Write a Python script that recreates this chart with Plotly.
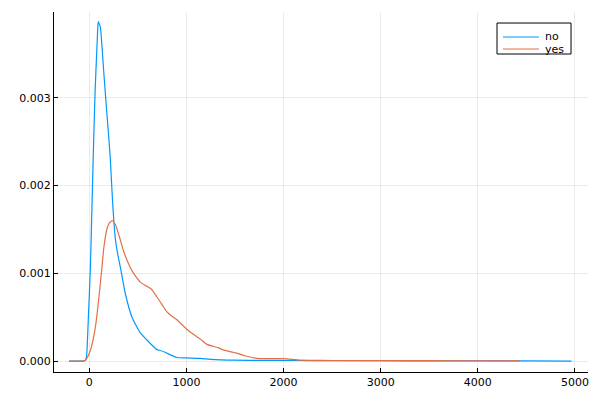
import plotly.graph_objects as go

# series "no"
no_x = [-210, -120, -60, -40, -30, -24, -10, 10, 30, 44, 60, 75, 88, 93, 100, 113, 150, 175, 202, 216, 240, 267, 290, 319, 370, 439, 525, 593, 628, 696, 730, 780, 833, 902, 1000, 1142, 1245, 1485, 1800, 2100, 2500, 3000, 3500, 4000, 4500, 4965]
no_y = [0.0, 0.0, 0.0, 0.00001, 0.00005, 0.000125, 0.0005, 0.00105, 0.0019, 0.0025, 0.0031, 0.0035, 0.00382, 0.00387, 0.00385, 0.00381, 0.00327, 0.0029, 0.00252, 0.0023, 0.0018, 0.0014, 0.00123, 0.00107, 0.00077, 0.0005, 0.00032, 0.00024, 0.0002, 0.00013, 0.00012, 0.0001, 0.00007, 0.00004, 0.000035, 0.00003, 0.00002, 0.00001, 0.000008, 0.000006, 0.000004, 0.000003, 0.000002, 0.000002, 0.000001, 0.0]

# series "yes"
yes_x = [-210, -120, -90, -40, 10, 40, 70, 96, 127, 150, 180, 210, 240, 270, 300, 319, 350, 388, 420, 456, 525, 580, 628, 660, 696, 750, 799, 850, 902, 1005, 1142, 1210, 1330, 1382, 1519, 1600, 1725, 1850, 2000, 2170, 2300, 2500, 3000, 3500, 4000, 4430]
yes_y = [0.0, 0.0, 0.0, 0.00001, 0.00012, 0.00025, 0.00045, 0.0007, 0.00104, 0.0013, 0.0015, 0.00158, 0.0016, 0.00155, 0.00145, 0.00138, 0.00126, 0.00115, 0.00107, 0.001, 0.0009, 0.00086, 0.00083, 0.00079, 0.00073, 0.00064, 0.00056, 0.00051, 0.00047, 0.00036, 0.00025, 0.00019, 0.00015, 0.000125, 0.00009, 0.00006, 0.00003, 0.000028, 0.000028, 0.00001, 0.000008, 0.000006, 0.000005, 0.000004, 0.000003, 0.000002]

series_names = ["no", "yes"]
series_colors = ["#009AFA", "#E26F46"]

x_ticks = [0, 1000, 2000, 3000, 4000, 5000]
y_ticks = [0.0, 0.001, 0.002, 0.003]
y_tick_labels = ["0.000", "0.001", "0.002", "0.003"]

fig = go.Figure()
for xs, ys, nm, col in zip([no_x, yes_x], [no_y, yes_y], series_names, series_colors):
    fig.add_trace(go.Scatter(x=xs, y=ys, mode="lines", name=nm, showlegend=False,
                             line=dict(color=col, width=1.2, shape="spline", smoothing=0.5)))

axis_common = dict(showline=True, linecolor="black", linewidth=1, mirror=False,
                   showgrid=True, gridcolor="rgba(0,0,0,0.08)", gridwidth=1,
                   ticks="inside", ticklen=4, tickcolor="black", zeroline=False,
                   automargin=False,
                   tickfont=dict(family="DejaVu Sans", size=11, color="black"))

fig.update_xaxes(range=[-364, 5134], tickvals=x_ticks,
                 ticktext=[str(v) for v in x_ticks], **axis_common)
fig.update_yaxes(range=[-0.000125, 0.00398], tickvals=y_ticks,
                 ticktext=y_tick_labels, **axis_common)

# manual legend (paper coordinates relative to plot area)
fig.add_shape(type="rect", xref="paper", yref="paper",
              x0=0.8296, x1=0.9682, y0=0.8833, y1=0.9694,
              line=dict(color="black", width=1), fillcolor="white", layer="above")
leg_y = [0.9306, 0.8972]
for nm, col, yy in zip(series_names, series_colors, leg_y):
    fig.add_shape(type="line", xref="paper", yref="paper",
                  x0=0.8408, x1=0.9082, y0=yy, y1=yy,
                  line=dict(color=col, width=1.2), layer="above")
    fig.add_annotation(text=nm, xref="paper", yref="paper", x=0.9157, y=yy,
                       xanchor="left", yanchor="middle", showarrow=False,
                       font=dict(family="DejaVu Sans", size=11, color="black"))

fig.update_layout(
    width=592, height=392,
    margin=dict(l=46, r=12, t=4, b=28, autoexpand=False),
    plot_bgcolor="white", paper_bgcolor="white",
    showlegend=False,
)

fig.write_html("out.html")
